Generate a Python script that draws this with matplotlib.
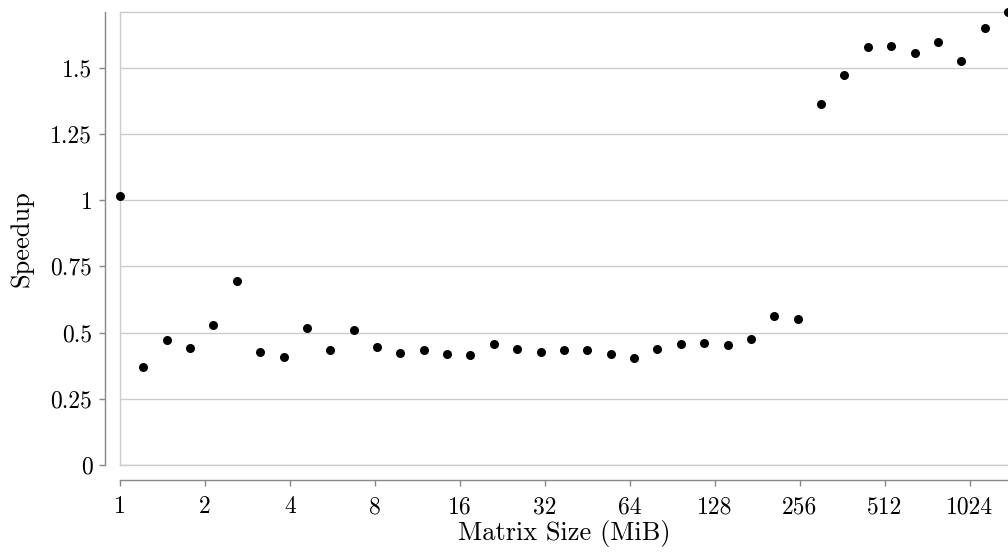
import numpy as np
import matplotlib
matplotlib.use('Agg')
import matplotlib.pyplot as plt
from matplotlib.ticker import FixedLocator, FuncFormatter, NullLocator

plt.rcParams['font.family'] = ['cmr10', 'DejaVu Serif']
plt.rcParams['axes.formatter.use_mathtext'] = True
plt.rcParams['font.size'] = 17

# matrix sizes in MiB (dimension grows by 10% each step -> size by 1.21)
step = list(range(39))
size_mib = [1.21 ** k for k in step]
speedup = [1.016, 0.371, 0.472, 0.442, 0.529, 0.695, 0.428, 0.407, 0.516, 0.433,
           0.510, 0.445, 0.422, 0.433, 0.418, 0.416, 0.456, 0.438, 0.428, 0.433,
           0.435, 0.421, 0.404, 0.437, 0.457, 0.460, 0.452, 0.476, 0.563, 0.550,
           1.363, 1.474, 1.579, 1.584, 1.555, 1.597, 1.525, 1.652, 1.710]

xticks = [1, 2, 4, 8, 16, 32, 64, 128, 256, 512, 1024]
yticks = [0, 0.25, 0.5, 0.75, 1, 1.25, 1.5]

grid_c = '#cccccc'
spine_c = '#888888'

fig, ax = plt.subplots(figsize=(10.08, 5.54), dpi=100)
fig.subplots_adjust(left=0.119, right=1.0, top=0.978, bottom=0.1606)

ax.scatter(size_mib, speedup, s=30, color='black', zorder=3, clip_on=False)

ax.set_xscale('log', base=2)
ax.set_xlim(size_mib[0], size_mib[-1])
ax.set_ylim(0, max(speedup))

ax.xaxis.set_major_locator(FixedLocator(xticks))
ax.xaxis.set_minor_locator(NullLocator())
ax.xaxis.set_major_formatter(FuncFormatter(lambda v, p: '%d' % round(v)))
ax.yaxis.set_major_locator(FixedLocator(yticks))
ax.yaxis.set_major_formatter(FuncFormatter(lambda v, p: '%g' % v))

ax.yaxis.grid(True, color=grid_c, linewidth=1)
ax.set_axisbelow(True)
ax.axvline(size_mib[0], color=grid_c, linewidth=1, zorder=0, clip_on=False)
ax.axhline(0, color=grid_c, linewidth=1, zorder=0, clip_on=False)

for side in ['left', 'bottom']:
    ax.spines[side].set_position(('outward', 10.8))
    ax.spines[side].set_color(spine_c)
    ax.spines[side].set_linewidth(1)
ax.spines['top'].set_color(grid_c)
ax.spines['top'].set_linewidth(1)
ax.spines['right'].set_visible(False)

ax.tick_params(axis='both', colors=spine_c, labelcolor='black', length=4, width=1, labelsize=17)
ax.tick_params(axis='x', pad=7.5)
ax.tick_params(axis='y', pad=5)

ax.set_xlabel('Matrix Size (MiB)', fontsize=19)
ax.set_ylabel('Speedup', fontsize=19)
ax.xaxis.set_label_coords(0.5, -0.121)
ax.yaxis.set_label_coords(-0.097, 0.5)

fig.savefig('out.png', dpi=100)
